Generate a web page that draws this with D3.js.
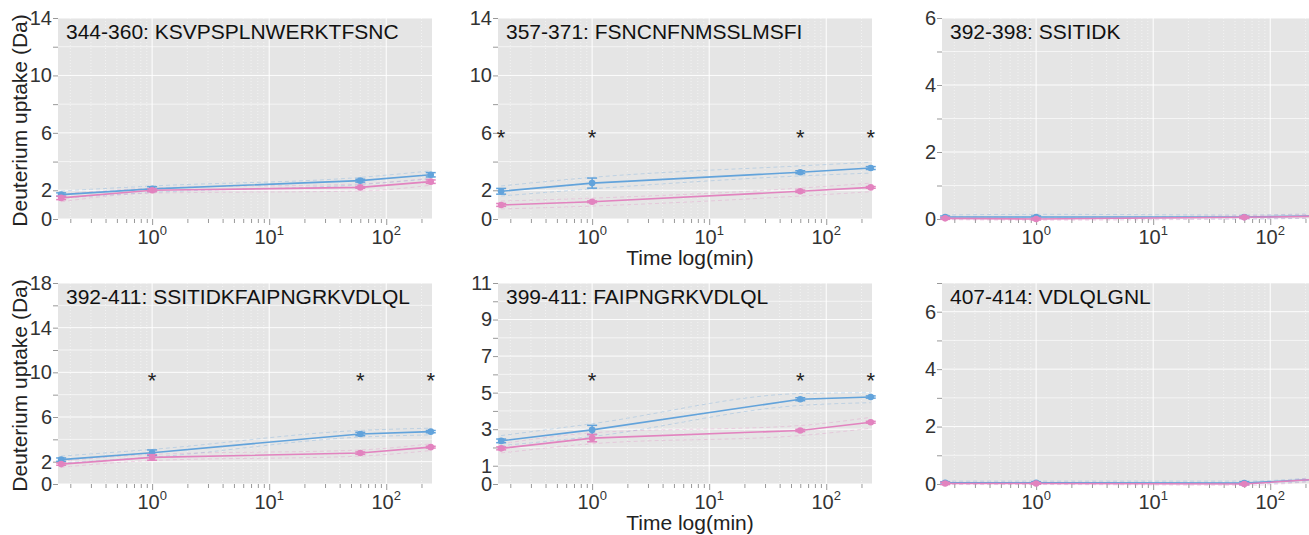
<!DOCTYPE html>
<html>
<head>
<meta charset="utf-8">
<script src="https://cdn.jsdelivr.net/npm/d3@7"></script>
<style>
  body { margin: 0; background: #fff; }
  svg { font-family: "Liberation Sans", Arial, sans-serif; }
</style>
</head>
<body>
<div id="chart"></div>
<script>
// exchange times (min)
const times = [0.167, 1, 60, 240];

const titles = [
  "344-360: KSVPSPLNWERKTFSNC",
  "357-371: FSNCNFNMSSLMSFI",
  "392-398: SSITIDK",
  "392-411: SSITIDKFAIPNGRKVDLQL",
  "399-411: FAIPNGRKVDLQL",
  "407-414: VDLQLGNL"
];

const yMax = [14, 14, 6, 18, 11, 7];
const yMajor = [
  [0, 2, 6, 10, 14],
  [0, 2, 6, 10, 14],
  [0, 2, 4, 6],
  [0, 2, 6, 10, 14, 18],
  [0, 1, 3, 5, 7, 9, 11],
  [0, 2, 4, 6]
];
const yMinor = [
  [4, 8, 12],
  [4, 8, 12],
  [1, 3, 5],
  [4, 8, 12, 16],
  [2, 4, 6, 8, 10],
  [1, 3, 5, 7]
];
const xLabels = [1, 10, 100];

// mean uptake, blue state
const blueMean = [
  [1.7, 2.1, 2.67, 3.08],
  [1.93, 2.5, 3.26, 3.55],
  [0.06, 0.06, 0.06, 0.09],
  [2.18, 2.8, 4.48, 4.69],
  [2.36, 2.96, 4.64, 4.76],
  [0.04, 0.04, 0.03, 0.16]
];
const blueErr = [
  [0.12, 0.15, 0.1, 0.15],
  [0.2, 0.35, 0.1, 0.1],
  [0.03, 0.03, 0.02, 0.03],
  [0.15, 0.25, 0.15, 0.1],
  [0.1, 0.25, 0.08, 0.06],
  [0.04, 0.04, 0.05, 0.04]
];
const blueLo = [
  [1.45, 1.85, 2.4, 2.8],
  [1.6, 2.1, 3.0, 3.2],
  [0.0, 0.0, 0.0, 0.03],
  [1.9, 2.4, 4.2, 4.4],
  [2.1, 2.6, 4.3, 4.45],
  [0.0, 0.0, 0.0, 0.1]
];
const blueHi = [
  [1.95, 2.3, 2.9, 3.35],
  [2.3, 2.9, 3.7, 3.95],
  [0.12, 0.14, 0.12, 0.16],
  [2.5, 3.1, 4.8, 5.0],
  [2.65, 3.3, 4.95, 5.0],
  [0.1, 0.1, 0.1, 0.22]
];

// mean uptake, pink state
const pinkMean = [
  [1.47, 2.0, 2.2, 2.6],
  [0.98, 1.2, 1.93, 2.2],
  [0.02, 0.0, 0.05, 0.08],
  [1.78, 2.38, 2.77, 3.3],
  [1.95, 2.51, 2.93, 3.38],
  [0.02, 0.02, 0.0, 0.16]
];
const pinkErr = [
  [0.12, 0.1, 0.06, 0.12],
  [0.1, 0.06, 0.08, 0.06],
  [0.03, 0.03, 0.03, 0.03],
  [0.1, 0.25, 0.1, 0.08],
  [0.08, 0.2, 0.06, 0.05],
  [0.04, 0.03, 0.03, 0.03]
];
const pinkLo = [
  [1.2, 1.8, 1.95, 2.35],
  [0.7, 0.9, 1.6, 1.9],
  [-0.02, -0.04, 0.0, 0.02],
  [1.5, 2.1, 2.5, 3.0],
  [1.7, 2.2, 2.65, 3.05],
  [-0.02, -0.02, -0.05, 0.1]
];
const pinkHi = [
  [1.75, 2.15, 2.45, 2.85],
  [1.25, 1.45, 2.15, 2.5],
  [0.08, 0.06, 0.1, 0.14],
  [2.05, 2.65, 3.05, 3.6],
  [2.2, 2.8, 3.2, 3.65],
  [0.06, 0.06, 0.05, 0.22]
];

// significance markers
const starTimes = [[], [0.167, 1, 60, 240], [], [1, 60, 240], [1, 60, 240], []];
const starLevel = [0, 6.0, 0, 9.7, 5.9, 0];

const drawPanels = function () {

  var colLeft = [58, 498, 942],
    rowTop = [18, 283],
    width = 374,
    height = 201,
    blue = "#62a3db",
    pink = "#e283bf";

  var svg = d3.select("#chart").append("svg")
    .attr("width", 1309)
    .attr("height", 535);

  // minor log positions inside the domain
  var xDomain = [0.157, 246];
  var xMinor = [];
  [0.1, 1, 10, 100].forEach(function (dec) {
    for (var k = 2; k <= 9; k++) {
      var v = dec * k;
      if (v > xDomain[0] && v < xDomain[1]) xMinor.push(v);
    }
  });

  titles.forEach(function (title, i) {
    var col = i % 3,
      row = Math.floor(i / 3);

    var x = d3.scaleLog().domain(xDomain).range([0, width]);
    var y = d3.scaleLinear().domain([0, yMax[i]]).range([height, 0]);

    var g = svg.append("g")
      .attr("transform", "translate(" + colLeft[col] + "," + rowTop[row] + ")");

    g.append("rect")
      .attr("width", width)
      .attr("height", height)
      .attr("fill", "#e5e5e5");

    // grid
    g.selectAll(".hgrid")
      .data(yMajor[i].concat(yMinor[i]))
      .enter().append("line")
      .attr("x1", 0).attr("x2", width)
      .attr("y1", function (d) { return y(d); })
      .attr("y2", function (d) { return y(d); })
      .attr("stroke", "#fff")
      .attr("stroke-opacity", function (d) { return yMajor[i].indexOf(d) >= 0 ? 0.9 : 0.6; })
      .attr("stroke-width", 1);

    g.selectAll(".vminor")
      .data(xMinor)
      .enter().append("line")
      .attr("x1", function (d) { return x(d); })
      .attr("x2", function (d) { return x(d); })
      .attr("y1", 0).attr("y2", height)
      .attr("stroke", "#fff")
      .attr("stroke-opacity", 0.7)
      .attr("stroke-dasharray", "1,2")
      .attr("stroke-width", 0.8);

    g.selectAll(".vmajor")
      .data(xLabels)
      .enter().append("line")
      .attr("x1", function (d) { return x(d); })
      .attr("x2", function (d) { return x(d); })
      .attr("y1", 0).attr("y2", height)
      .attr("stroke", "#fff")
      .attr("stroke-width", 1);

    // y axis
    var yAxis = g.append("g")
      .call(d3.axisLeft(y).tickValues(yMajor[i]).tickSize(5).tickPadding(1)
        .tickFormat(d3.format("d")));
    yAxis.append("g")
      .call(d3.axisLeft(y).tickValues(yMinor[i]).tickSize(5).tickFormat(""));
    yAxis.selectAll(".domain").remove();
    yAxis.selectAll("line").attr("stroke", "#999");
    yAxis.selectAll("text")
      .attr("font-size", 20)
      .attr("fill", "#333")
      .attr("font-family", "Liberation Sans, Arial, sans-serif");

    // x axis
    var xAxis = g.append("g")
      .attr("transform", "translate(0," + height + ")")
      .call(d3.axisBottom(x).tickValues(xLabels).tickSize(6).tickFormat(""));
    xAxis.append("g")
      .call(d3.axisBottom(x).tickValues(xMinor).tickSize(4).tickFormat(""));
    xAxis.selectAll(".domain").remove();
    xAxis.selectAll("line").attr("stroke", "#999");

    var xl = g.selectAll(".xlab")
      .data(xLabels)
      .enter().append("text")
      .attr("x", function (d) { return x(d); })
      .attr("y", height + 25)
      .attr("text-anchor", "middle")
      .attr("font-size", 20)
      .attr("fill", "#333");
    xl.append("tspan").text("10");
    xl.append("tspan")
      .attr("dy", -9)
      .attr("font-size", 13)
      .text(function (d) { return Math.round(Math.log10(d)); });

    // series: dashed spread lines, error bars, mean line, markers
    var series = [
      { color: blue, mean: blueMean[i], err: blueErr[i], lo: blueLo[i], hi: blueHi[i] },
      { color: pink, mean: pinkMean[i], err: pinkErr[i], lo: pinkLo[i], hi: pinkHi[i] }
    ];

    var spread = d3.line()
      .x(function (d) { return x(d[0]); })
      .y(function (d) { return y(d[1]); })
      .curve(d3.curveMonotoneX);

    var valueline = d3.line()
      .x(function (d) { return x(d[0]); })
      .y(function (d) { return y(d[1]); });

    series.forEach(function (s) {
      [s.lo, s.hi].forEach(function (arr) {
        g.append("path")
          .datum(times.map(function (t, k) { return [t, arr[k]]; }))
          .attr("d", spread)
          .attr("fill", "none")
          .attr("stroke", s.color)
          .attr("stroke-opacity", 0.3)
          .attr("stroke-width", 1)
          .attr("stroke-dasharray", "4,3");
      });
    });

    series.forEach(function (s) {
      var pts = times.map(function (t, k) { return [t, s.mean[k], s.err[k]]; });

      g.append("path")
        .datum(pts)
        .attr("d", valueline)
        .attr("fill", "none")
        .attr("stroke", s.color)
        .attr("stroke-width", 1.6);

      var eb = g.selectAll(null)
        .data(pts)
        .enter().append("g")
        .attr("stroke", s.color)
        .attr("stroke-width", 1.5);
      eb.append("line")
        .attr("x1", function (d) { return x(d[0]); })
        .attr("x2", function (d) { return x(d[0]); })
        .attr("y1", function (d) { return y(d[1] - d[2]); })
        .attr("y2", function (d) { return y(d[1] + d[2]); });
      [-1, 1].forEach(function (sgn) {
        eb.append("line")
          .attr("x1", function (d) { return x(d[0]) - 5; })
          .attr("x2", function (d) { return x(d[0]) + 5; })
          .attr("y1", function (d) { return y(d[1] + sgn * d[2]); })
          .attr("y2", function (d) { return y(d[1] + sgn * d[2]); });
      });

      g.selectAll(null)
        .data(pts)
        .enter().append("circle")
        .attr("cx", function (d) { return x(d[0]); })
        .attr("cy", function (d) { return y(d[1]); })
        .attr("r", 3.3)
        .attr("fill", s.color);
    });

    // significance stars
    g.selectAll(".star")
      .data(starTimes[i])
      .enter().append("text")
      .attr("x", function (d) { return x(d); })
      .attr("y", y(starLevel[i]) + 12)
      .attr("text-anchor", "middle")
      .attr("font-size", 22)
      .attr("fill", "#222")
      .text("*");

    // peptide label
    g.append("text")
      .attr("x", 8)
      .attr("y", 21)
      .attr("font-size", 21)
      .attr("fill", "#111")
      .text(title);
  });

  // axis titles
  rowTop.forEach(function (top) {
    svg.append("text")
      .attr("transform", "translate(27," + (top + height / 2 + 2) + ") rotate(-90)")
      .attr("text-anchor", "middle")
      .attr("font-size", 21)
      .attr("fill", "#222")
      .text("Deuterium uptake (Da)");

    svg.append("text")
      .attr("x", colLeft[1] + width / 2 + 5)
      .attr("y", top + height + 46)
      .attr("text-anchor", "middle")
      .attr("font-size", 21)
      .attr("fill", "#222")
      .text("Time log(min)");
  });
};

drawPanels();
</script>
</body>
</html>
